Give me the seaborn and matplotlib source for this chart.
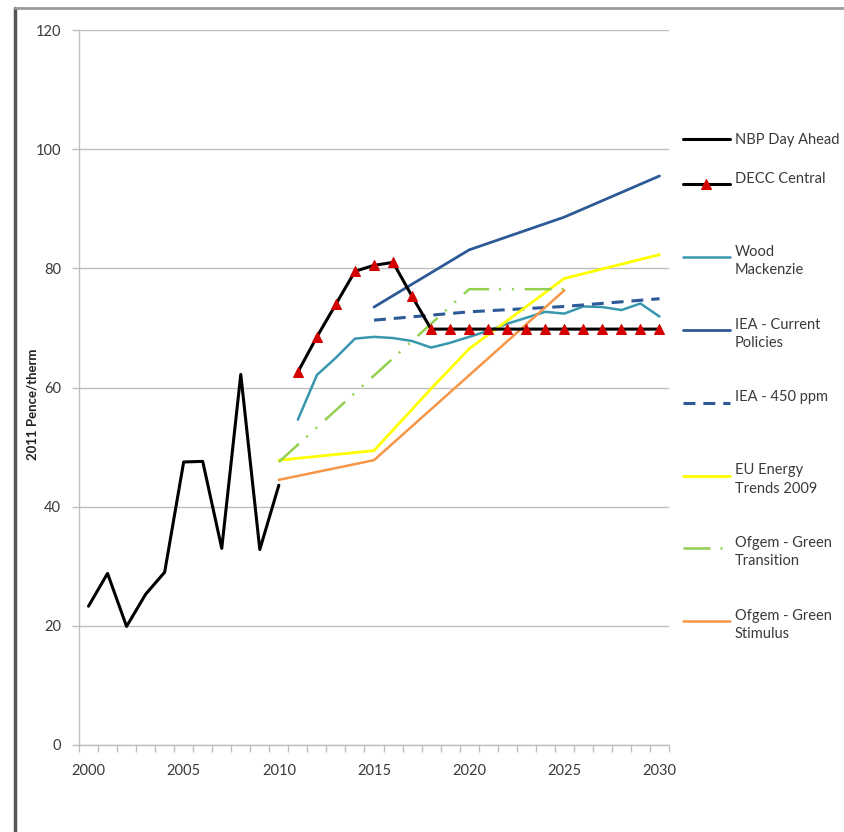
import pandas as pd
import matplotlib.pyplot as plt
import seaborn as sns
from matplotlib.lines import Line2D

# values (2011 pence/therm)
nbp_years = [2000, 2001, 2002, 2003, 2004, 2005, 2006, 2007, 2008, 2009, 2010]
nbp_price = [23.3, 28.8, 19.9, 25.3, 29.0, 47.5, 47.6, 33.0, 62.2, 32.8, 43.6]

decc_years = [2011, 2012, 2013, 2014, 2015, 2016, 2017, 2018, 2019, 2020,
              2021, 2022, 2023, 2024, 2025, 2026, 2027, 2028, 2029, 2030]
decc_price = [62.6, 68.5, 74.0, 79.5, 80.5, 81.0, 75.3, 69.8, 69.8, 69.8,
              69.8, 69.8, 69.8, 69.8, 69.8, 69.8, 69.8, 69.8, 69.8, 69.8]

wood_years = decc_years
wood_price = [54.6, 62.1, 65.0, 68.2, 68.5, 68.3, 67.8, 66.7, 67.5, 68.5,
              69.5, 70.7, 71.7, 72.7, 72.4, 73.6, 73.5, 73.0, 74.1, 71.9]

iea_cp_years = [2015, 2020, 2025, 2030]
iea_cp_price = [73.5, 83.1, 88.6, 95.5]

iea_450_years = [2015, 2020, 2025, 2030]
iea_450_price = [71.3, 72.7, 73.6, 74.9]

eu_years = [2010, 2015, 2018, 2020, 2025, 2030]
eu_price = [47.8, 49.4, 59.8, 66.5, 78.3, 82.3]

ofgem_gt_years = [2010, 2020, 2025]
ofgem_gt_price = [47.5, 76.5, 76.5]

ofgem_gs_years = [2010, 2015, 2025]
ofgem_gs_price = [44.5, 47.8, 76.3]

sns.set_style("white")
plt.rcParams['font.family'] = ['Lato', 'DejaVu Sans']

fig = plt.figure(figsize=(8.44, 8.32), dpi=100)
ax = fig.add_axes([79 / 844, 1 - 745 / 832, 590 / 844, 715 / 832])

def draw(years, price, label, color, lw=1.8, dashes=None, **kws):
    df = pd.DataFrame({'year': years, 'price': price})
    sns.lineplot(data=df, x='year', y='price', ax=ax, color=color, linewidth=lw,
                 label=label, errorbar=None, **kws)
    line = ax.lines[-1]
    if dashes is not None:
        line.set_dashes(dashes)
    return line

draw(nbp_years, nbp_price, 'NBP Day Ahead', 'black', lw=2.2)
draw(wood_years, wood_price, 'Wood\nMackenzie', '#3797AE')
draw(iea_cp_years, iea_cp_price, 'IEA - Current\nPolicies', '#2D5A96', lw=2.0)
draw(iea_450_years, iea_450_price, 'IEA - 450 ppm\n ', '#2D5A96', lw=2.2, dashes=(3.9, 2.6))
draw(eu_years, eu_price, 'EU Energy\nTrends 2009', '#FFFF00', lw=2.0)
draw(ofgem_gt_years, ofgem_gt_price, 'Ofgem - Green\nTransition', '#92D050',
     dashes=(10.8, 4.0, 0.8, 4.3, 0.8, 4.3))
draw(ofgem_gs_years, ofgem_gs_price, 'Ofgem - Green\nStimulus', '#F79646')
draw(decc_years, decc_price, 'DECC Central\n ', 'black', lw=2.2, marker='^',
     markersize=7, markerfacecolor='#D40000', markeredgecolor='#D40000')

if ax.get_legend() is not None:
    ax.get_legend().remove()

ax.set_xlim(1999.5, 2030.5)
ax.set_ylim(0, 120)
ax.set_yticks(range(0, 121, 20))
ax.set_xticks(range(2000, 2031, 5))
ax.set_xticks([y + 0.5 for y in range(1999, 2031)], minor=True)
ax.tick_params(axis='x', which='major', length=0, pad=14, labelsize=10.5, labelcolor='#3a3a3a')
ax.tick_params(axis='x', which='minor', length=5, width=1, color='#BFBFBF', direction='out', bottom=True)
ax.tick_params(axis='y', length=5, width=1, color='#BFBFBF', direction='out', left=True,
               pad=8, labelsize=10.5, labelcolor='#3a3a3a')
ax.set_xlabel('')
ax.set_ylabel('2011 Pence/therm', fontsize=9.5, fontweight='bold', color='#222222')
ax.yaxis.set_label_coords(-0.068, 0.476)

ax.grid(axis='y', color='#BFBFBF', linewidth=1)
ax.grid(axis='x', visible=False)
ax.set_axisbelow(True)
for side in ['top', 'right']:
    ax.spines[side].set_visible(False)
for side in ['left', 'bottom']:
    ax.spines[side].set_color('#BFBFBF')
    ax.spines[side].set_linewidth(1)

# legend, outside on the right
handles, labels = ax.get_legend_handles_labels()
order = ['NBP Day Ahead', 'DECC Central\n ', 'Wood\nMackenzie', 'IEA - Current\nPolicies',
         'IEA - 450 ppm\n ', 'EU Energy\nTrends 2009', 'Ofgem - Green\nTransition',
         'Ofgem - Green\nStimulus']
lookup = dict(zip(labels, handles))

leg1 = fig.legend([lookup[order[0]]], [order[0]], loc='center left',
                  bbox_to_anchor=(683 / 844, 1 - 140 / 832), frameon=False,
                  borderpad=0, borderaxespad=0, handlelength=3.2, handletextpad=0.35,
                  fontsize=10.5, labelcolor='#3a3a3a')
leg2 = fig.legend([lookup[k] for k in order[1:]], order[1:], loc='upper left',
                  bbox_to_anchor=(683 / 844, 1 - 172 / 832), frameon=False,
                  borderpad=0, borderaxespad=0, handlelength=3.2, handletextpad=0.35,
                  handleheight=2.6, labelspacing=2.77, numpoints=1,
                  fontsize=10.5, labelcolor='#3a3a3a')
for t in leg2.get_texts():
    t.set_linespacing(1.4)

# chart area border (left and top edges visible)
fig.add_artist(Line2D([15 / 844, 15 / 844], [0, 1 - 8 / 832], transform=fig.transFigure,
                      color='#555555', linewidth=2.5))
fig.add_artist(Line2D([15 / 844, 1], [1 - 8 / 832, 1 - 8 / 832], transform=fig.transFigure,
                      color='#9A9A9A', linewidth=2))

fig.savefig('out.png', dpi=100)
